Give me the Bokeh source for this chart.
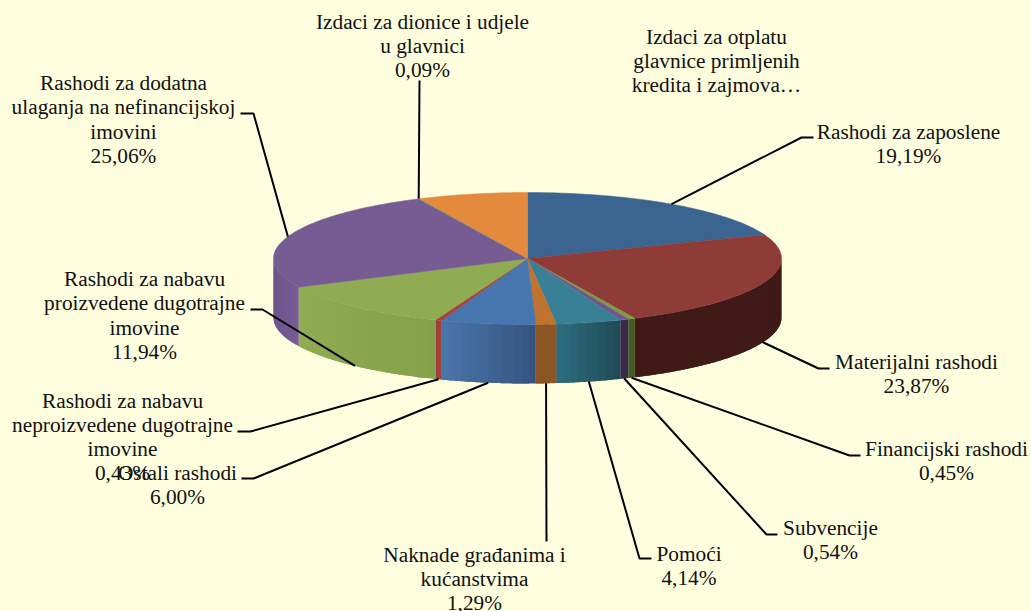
import math
from bokeh.plotting import figure
from bokeh.models import Range1d
from bokeh.core.properties import value
from bokeh.embed import file_html
from bokeh.resources import INLINE

# ---- data
categories = ["Rashodi za zaposlene", "Materijalni rashodi", "Financijski rashodi", "Subvencije", "Pomoći",
              "Naknade građanima i kućanstvima", "Ostali rashodi", "Rashodi za nabavu neproizvedene dugotrajne imovine",
              "Rashodi za nabavu proizvedene dugotrajne imovine", "Rashodi za dodatna ulaganja na nefinancijskoj imovini",
              "Izdaci za dionice i udjele u glavnici", "Izdaci za otplatu glavnice primljenih kredita i zajmova"]
shares = [19.19, 23.87, 0.45, 0.54, 4.14, 1.29, 6.00, 0.43, 11.94, 25.06, 0.09, 7.00]
label_lines = [
    ["Rashodi za zaposlene", "19,19%"],
    ["Materijalni rashodi", "23,87%"],
    ["Financijski rashodi", "0,45%"],
    ["Subvencije", "0,54%"],
    ["Pomoći", "4,14%"],
    ["Naknade građanima i", "kućanstvima", "1,29%"],
    ["Rashodi za nabavu", "neproizvedene dugotrajne", "imovine", "0,43%"],
    ["Ostali rashodi", "6,00%"],
    ["Rashodi za nabavu", "proizvedene dugotrajne", "imovine", "11,94%"],
    ["Rashodi za dodatna", "ulaganja na nefinancijskoj", "imovini", "25,06%"],
    ["Izdaci za dionice i udjele", "u glavnici", "0,09%"],
    ["Izdaci za otplatu", "glavnice primljenih", "kredita i zajmova…"],
]

# ---- styling
W, H = 1031, 611
BG = "#FFFFDF"
CX, CY, RX, RY, DEPTH = 527, 258, 254, 66, 59
top_colors = ["#3B6590", "#8F3C38", "#7F9A42", "#6F5590", "#388096", "#C0722F",
              "#4776AE", "#A8423F", "#8FAC52", "#775C94", "#3B86A3", "#E38A3C"]
side_left = ["#3B6590", "#3F1A17", "#445A22", "#3A2A4C", "#2E6E80", "#8B5524",
             "#4A77AB", "#A03E3B", "#91AD52", "#6B5088", "#3B86A3", "#E38A3C"]
side_right = ["#3B6590", "#3F1A17", "#445A22", "#3A2A4C", "#1E4A55", "#8B5524",
              "#34547F", "#A03E3B", "#84A049", "#775C94", "#3B86A3", "#E38A3C"]
FONT = "Liberation Serif"
FONT_SIZE = "21.33px"
LINE_STEP = 24.3
label_pos = [(908, 131), (916, 361), (946, 448), (830, 527.5), (688.5, 553), (474, 554),
             (122, 400), (177, 472), (144, 278.5), (123, 82.5), (422, 21), (716, 36)]
leader_ends = {0: [(801, 137), (813, 137)], 1: [(818, 368), (829, 368)], 2: [(849, 455), (860, 455)],
               3: [(766, 534), (777, 534)], 4: [(639, 558), (651, 558)], 5: [(546, 541)],
               6: [(253, 478), (241, 478)], 7: [(250, 431), (237, 431)], 8: [(262, 309), (250, 309)],
               9: [(253, 113), (240, 113)], 10: [(419, 80)]}

def pt(theta, dy=0):
    return CX + RX * math.sin(theta), CY - RY * math.cos(theta) + dy

def mix(c1, c2, t):
    a = [int(c1[i:i + 2], 16) for i in (1, 3, 5)]
    b = [int(c2[i:i + 2], 16) for i in (1, 3, 5)]
    return "#%02x%02x%02x" % tuple(round(a[i] + (b[i] - a[i]) * t) for i in range(3))

p = figure(width=W, height=H, x_range=Range1d(0, W), y_range=Range1d(H, 0),
           toolbar_location=None, output_backend="svg", min_border=0,
           background_fill_color=BG, border_fill_color=BG, outline_line_color=None)
p.axis.visible = False
p.grid.visible = False

total = sum(shares)
starts, ends = [], []
acc = 0.0
for v in shares:
    starts.append(acc / total * 2 * math.pi)
    acc += v
    ends.append(acc / total * 2 * math.pi)

# side wall: only the front half of the rim (90..270 degrees) is visible.
# Strips are painted in order, each running on under the next, so no seams show.
sx, sy, sc = [], [], []
for i in range(len(shares)):
    a = max(starts[i], math.pi / 2)
    b = min(ends[i], 3 * math.pi / 2)
    if b <= a:
        continue
    n = max(1, int((b - a) / math.radians(1.5)))
    for k in range(n):
        t0 = a + (b - a) * k / n
        t1 = a + (b - a) * (k + 1) / n
        t2 = t1 if k == n - 1 else a + (b - a) * (k + 2) / n
        m = 6
        top = [pt(t0 + (t2 - t0) * j / m) for j in range(m + 1)]
        sx.append([q[0] for q in top] + [q[0] for q in reversed(top)])
        sy.append([q[1] for q in top] + [q[1] + DEPTH for q in reversed(top)])
        sc.append(mix(side_right[i], side_left[i], (k + 0.5) / n))
p.patches(sx, sy, fill_color=sc, line_color=None)

# top face
tx, ty = [], []
for i in range(len(shares)):
    n = max(2, int((ends[i] - starts[i]) / math.radians(1)))
    xs, ys = [CX], [CY]
    for k in range(n + 1):
        x, y = pt(starts[i] + (ends[i] - starts[i]) * k / n)
        xs.append(x)
        ys.append(y)
    tx.append(xs)
    ty.append(ys)
p.patches(tx, ty, fill_color=top_colors, line_color=top_colors, line_width=0.5)

# leaders start at the middle of each slice's outer edge
for i, tail in leader_ends.items():
    mid = (starts[i] + ends[i]) / 2
    dy = DEPTH if math.cos(mid) < 0 else 0
    x0, y0 = pt(mid, dy)
    xs = [x0] + [q[0] for q in tail]
    ys = [y0] + [q[1] for q in tail]
    p.line(xs, ys, line_color="#000000", line_width=2)

# labels
for lines, (cx, y0) in zip(label_lines, label_pos):
    p.text(x=[cx] * len(lines), y=[y0 + LINE_STEP * j for j in range(len(lines))], text=lines,
           text_font=value(FONT), text_font_size=value(FONT_SIZE), text_color="#111111",
           text_align="center", text_baseline="middle")

html = file_html(p, INLINE)
html = html.replace("<head>", "<head><style>html,body{margin:0;padding:0;overflow:hidden;background:%s}</style>" % BG, 1)
open("out.html", "w").write(html)
